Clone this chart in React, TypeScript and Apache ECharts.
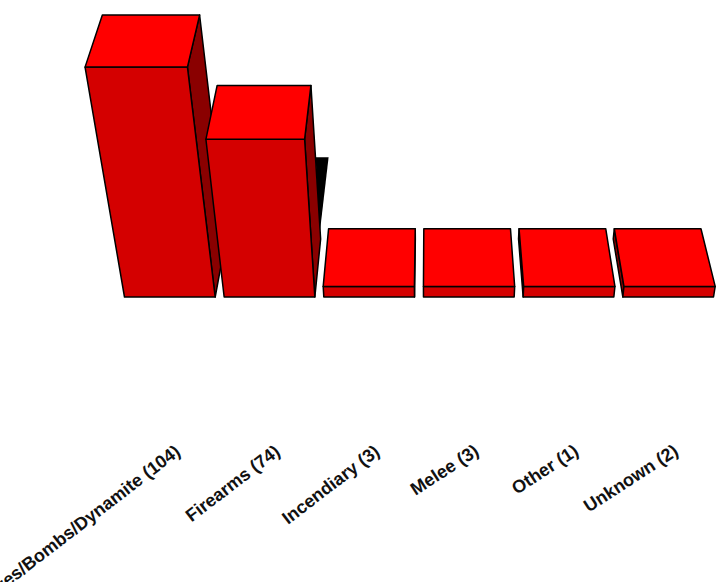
import { useEffect, useRef } from 'react';
import * as echarts from 'echarts';

// Weapon types and number of incidents
const categories = ['Explosives/Bombs/Dynamite', 'Firearms', 'Incendiary', 'Melee', 'Other', 'Unknown'];
const counts = [104, 74, 3, 3, 1, 2];

const VALUE_MAX = 120;

const FRONT = '#d40000';
const TOP = '#ff0000';
const SIDE = '#8a0000';

export default function App() {
  const ref = useRef<HTMLDivElement>(null);

  useEffect(() => {
    const chart = echarts.init(ref.current!, null, { renderer: 'svg' });

    const FOCAL = 1786; // distance of the vertical vanishing point below the floor
    const BACK_SCALE = 0.95; // shrink of the far edges of each block
    const FLOOR_DEPTH = 58; // on-screen depth of a block's footprint
    const MIN_THICK = 10.5; // thinnest slab drawn for very small counts

    const renderItem = (params: any, api: any) => {
      const i = params.dataIndex;
      const v = api.value(1);
      const [cx, baseY] = api.coord([i, 0]);
      const valY = api.coord([i, v])[1];
      const bw = api.size([1, 0])[0] * 0.91;
      const vx = api.getWidth() * 0.6;

      const H = Math.max(baseY - valY, MIN_THICK);
      const s = FOCAL / (FOCAL - H);
      const h = H * s;
      const yTop = baseY - h;
      const px = (x: number, k: number) => vx + (x - vx) * k;

      const xl0 = cx - bw / 2;
      const xr0 = cx + bw / 2;
      const xl1 = px(xl0, s);
      const xr1 = px(xr0, s);
      const depth = FLOOR_DEPTH - 0.026 * h;
      const yBack = yTop - depth;
      const bl = px(xl1, BACK_SCALE);
      const br = px(xr1, BACK_SCALE);
      const bbl = px(xl0, BACK_SCALE);
      const bbr = px(xr0, BACK_SCALE);
      const yBaseBack = baseY - FLOOR_DEPTH;

      const edge = { stroke: '#000', lineWidth: 1.5, lineJoin: 'round' };
      const children: any[] = [];

      // dark shadow showing beside a tall block when its right neighbour is low
      const next = counts[i + 1];
      if (next !== undefined && next < v * 0.5 && h > 60) {
        children.push({
          type: 'polygon',
          shape: { points: [[xr1 + 11, yTop + 18], [xr1 + 24, yTop + 18], [xr1 + 15, yTop + 95]] },
          style: { fill: '#000' },
        });
      }

      if (xr0 < vx) {
        children.push({
          type: 'polygon',
          shape: { points: [[xr1, yTop], [br, yBack], [bbr, yBaseBack], [xr0, baseY]] },
          style: { fill: SIDE, ...edge },
        });
      } else if (xl0 > vx) {
        children.push({
          type: 'polygon',
          shape: { points: [[xl1, yTop], [bl, yBack], [bbl, yBaseBack], [xl0, baseY]] },
          style: { fill: SIDE, ...edge },
        });
      }

      children.push({
        type: 'polygon',
        shape: { points: [[xl1, yTop], [xr1, yTop], [xr0, baseY], [xl0, baseY]] },
        style: { fill: FRONT, ...edge },
      });
      children.push({
        type: 'polygon',
        shape: { points: [[xl1, yTop], [xr1, yTop], [br, yBack], [bl, yBack]] },
        style: { fill: TOP, ...edge },
      });

      const tilt = cx < vx ? 37.5 : 33;
      children.push({
        type: 'text',
        x: cx + 8,
        y: 449,
        rotation: (tilt * Math.PI) / 180,
        style: {
          text: `${categories[i]} (${v})`,
          align: 'right',
          verticalAlign: 'middle',
          font: 'bold 18px "Liberation Sans", Arial, sans-serif',
          fill: '#111',
        },
      });

      return { type: 'group', children };
    };

    chart.setOption({
      animation: false,
      grid: { left: 120, right: -4, top: 62, bottom: 285 },
      xAxis: { type: 'category', data: categories, show: false },
      yAxis: { type: 'value', min: 0, max: VALUE_MAX, show: false },
      series: [
        {
          type: 'custom',
          renderItem,
          clip: false,
          data: counts.map((c, i) => [i, c]),
          encode: { x: 0, y: 1 },
        },
      ],
    });

    return () => chart.dispose();
  }, []);

  return (
    <div
      ref={ref}
      style={{ position: 'fixed', left: 0, top: 0, width: 718, height: 582, background: '#fff' }}
    />
  );
}
